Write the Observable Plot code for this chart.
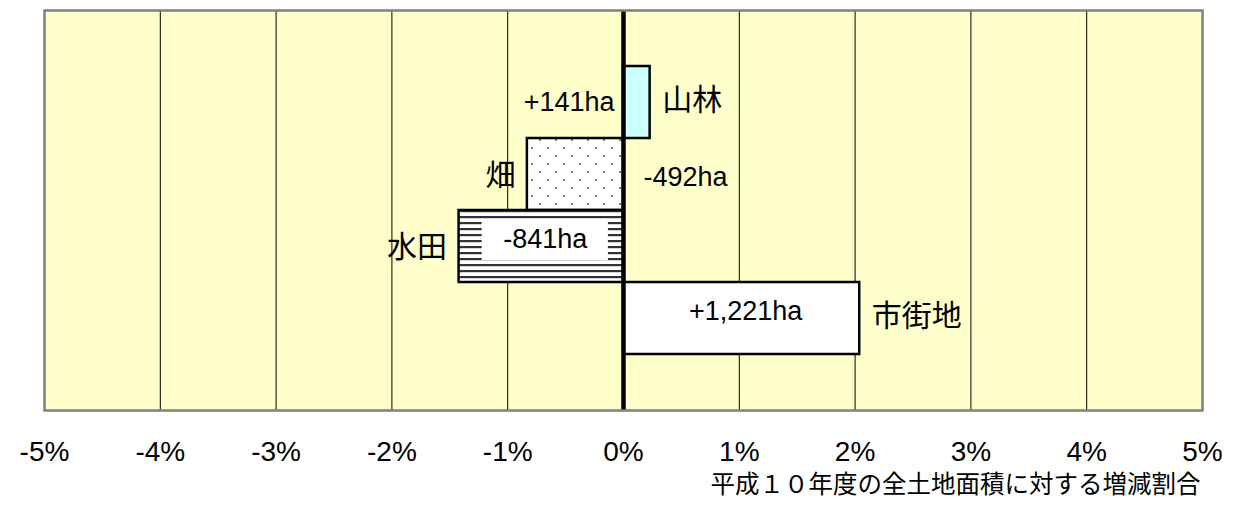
<!DOCTYPE html>
<html>
<head>
<meta charset="utf-8">
<script src="https://cdn.jsdelivr.net/npm/d3@7"></script>
<script src="https://cdn.jsdelivr.net/npm/@observablehq/plot@0.6"></script>
<style>
  html, body { margin: 0; padding: 0; background: #ffffff; }
  #chart svg { display: block; }
</style>
</head>
<body>
<div id="chart"></div>
<script>
// ---- data ----
const categories = ["山林", "畑", "水田", "市街地"];
const shares = [0.23, -0.83, -1.42, 2.04];          // % of total land area (H10)
const areaLabels = ["+141ha", "-492ha", "-841ha", "+1,221ha"];
const xTicks = [-5, -4, -3, -2, -1, 0, 1, 2, 3, 4, 5];
const gridTicks = [-4, -3, -2, -1, 1, 2, 3, 4];
const xTitle = "平成１０年度の全土地面積に対する増減割合";

// ---- styling per category ----
const fillFor = {"山林": "#ccffff", "畑": "url(#dots)", "水田": "url(#stripes)", "市街地": "#ffffff"};

const rows = categories.map((c, i) => ({
  category: c, share: shares[i], label: areaLabels[i], fill: fillFor[c]
}));

const latin = "'Liberation Sans', Arial, 'Noto Sans CJK JP', sans-serif";
const narrow = "'Liberation Sans Narrow', 'Arial Narrow', 'Liberation Sans', sans-serif";
const cjk = "'Noto Sans CJK JP', sans-serif";

const small = rows.filter(d => Math.abs(d.share) < 1);
const large = rows.filter(d => Math.abs(d.share) >= 1);
const boxed = rows.filter(d => d.fill === "url(#stripes)");

const chart = Plot.plot({
  width: 1248,
  height: 508,
  marginTop: 10,
  marginBottom: 98,
  marginLeft: 44,
  marginRight: 46,
  style: {background: "#ffffff", fontFamily: latin},
  x: {domain: [-5, 5], ticks: xTicks, tickFormat: d => d + "%"},
  y: {type: "band", domain: categories, paddingInner: 0, paddingOuter: 0.75, axis: null},
  color: {type: "identity"},
  marks: [
    Plot.frame({fill: "#ffffcc", stroke: null}),
    Plot.ruleX(gridTicks, {stroke: "#000000", strokeWidth: 1}),
    Plot.barX(rows, {x: "share", y: "category", fill: "fill", stroke: "#000000", strokeWidth: 2.5}),
    // white label box inside the striped bar
    Plot.barX(boxed, {
      x1: d => d.share / 2 - 0.545, x2: d => d.share / 2 + 0.545, y: "category",
      dx: 4, insetTop: 9, insetBottom: 22, fill: "#ffffff", stroke: null
    }),
    Plot.ruleX([0], {stroke: "#000000", strokeWidth: 4.5}),
    Plot.frame({stroke: "#808080", strokeWidth: 2.5}),
    Plot.axisX({
      ticks: xTicks, tickFormat: d => d + "%", tickSize: 0, tickPadding: 31,
      fontSize: 28, fill: "#000000", label: null, fontFamily: narrow
    }),
    // axis title
    Plot.text([xTitle], {
      frameAnchor: "bottom-right", dy: 82, dx: -2, textAnchor: "end",
      fontSize: 24.5, fontFamily: cjk, fill: "#000000"
    }),
    // category labels outside the bar end
    Plot.text(rows.filter(d => d.share >= 0), {
      x: "share", y: "category", text: "category", textAnchor: "start", dx: 12, dy: -2,
      fontSize: 30, fontFamily: cjk, fill: "#000000"
    }),
    Plot.text(rows.filter(d => d.share < 0), {
      x: "share", y: "category", text: "category", textAnchor: "end", dx: -12, dy: 1,
      fontSize: 30, fontFamily: cjk, fill: "#000000"
    }),
    // small bars: value label on the opposite side of zero
    Plot.text(small.filter(d => d.share >= 0), {
      x: 0, y: "category", text: "label", textAnchor: "end", dx: -9, dy: 0,
      fontSize: 27, fontFamily: latin, fill: "#000000"
    }),
    Plot.text(small.filter(d => d.share < 0), {
      x: 0, y: "category", text: "label", textAnchor: "start", dx: 20, dy: 3,
      fontSize: 27, fontFamily: latin, fill: "#000000"
    }),
    // large bars: value label inside the bar
    Plot.text(large, {
      x: d => d.share / 2, y: "category", text: "label", textAnchor: "middle", dx: 4, dy: -7,
      fontSize: 27, fontFamily: latin, fill: "#000000"
    })
  ]
});

// patterns for the bar fills
const ns = "http://www.w3.org/2000/svg";
const defs = document.createElementNS(ns, "defs");
defs.innerHTML = `
  <pattern id="dots" patternUnits="userSpaceOnUse" width="16" height="16">
    <rect width="16" height="16" fill="#ffffff"/>
    <rect x="3" y="3" width="2" height="2" fill="#808080"/>
    <rect x="11" y="11" width="2" height="2" fill="#808080"/>
  </pattern>
  <pattern id="stripes" patternUnits="userSpaceOnUse" width="8" height="6">
    <rect width="8" height="6" fill="#ffffff"/>
    <rect y="0" width="8" height="2.2" fill="#333333"/>
  </pattern>`;
chart.insertBefore(defs, chart.firstChild);

document.getElementById("chart").appendChild(chart);
</script>
</body>
</html>
